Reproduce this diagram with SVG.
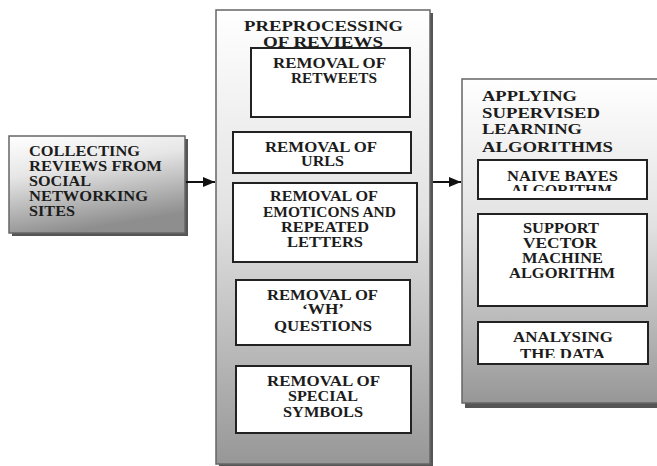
<svg xmlns="http://www.w3.org/2000/svg" width="657" height="466" viewBox="0 0 657 466">
<defs>
<linearGradient id="gOuter" x1="0" y1="0" x2="0" y2="1">
<stop offset="0" stop-color="#ffffff"/>
<stop offset="0.45" stop-color="#e2e2e2"/>
<stop offset="1" stop-color="#979797"/>
</linearGradient>
<linearGradient id="gLeft" x1="0" y1="0" x2="0.3" y2="1">
<stop offset="0" stop-color="#ffffff"/>
<stop offset="0.4" stop-color="#e6e6e6"/>
<stop offset="1" stop-color="#8e8e8e"/>
</linearGradient>
<marker id="arrow" viewBox="0 0 12 10" refX="12" refY="5" markerWidth="12" markerHeight="10" markerUnits="userSpaceOnUse" orient="auto">
<path d="M0,0 L12,5 L0,10 Z" fill="#111"/>
</marker>
<clipPath id="clipNB"><rect x="478" y="160" width="169" height="31"/></clipPath>
<clipPath id="clipAD"><rect x="478" y="322" width="170" height="36"/></clipPath>
</defs>
<style>
.shadow{fill:#555;}
.outer{stroke:#666;stroke-width:1.5;}
.inner{fill:#fff;stroke:#222;stroke-width:2;}
.t{font-family:"Liberation Serif","Times New Roman",serif;font-weight:bold;font-size:14px;fill:#1c1c1c;}
.title{font-size:15.5px;}
.conn{stroke:#111;stroke-width:2;fill:none;}
</style>

<g id="collecting">
<rect class="shadow" x="12" y="139" width="176" height="97"/>
<rect class="outer" x="9" y="136" width="176" height="97" fill="url(#gLeft)"/>
<text class="t" x="29" y="156" textLength="111" lengthAdjust="spacingAndGlyphs">COLLECTING</text>
<text class="t" x="29" y="171" textLength="133" lengthAdjust="spacingAndGlyphs">REVIEWS FROM</text>
<text class="t" x="29" y="186" textLength="62" lengthAdjust="spacingAndGlyphs">SOCIAL</text>
<text class="t" x="29" y="201" textLength="119" lengthAdjust="spacingAndGlyphs">NETWORKING</text>
<text class="t" x="29" y="216" textLength="46" lengthAdjust="spacingAndGlyphs">SITES</text>
</g>

<g id="preprocessing">
<rect class="shadow" x="219" y="13" width="214" height="454"/>
<rect class="outer" x="216" y="10" width="214" height="454" fill="url(#gOuter)"/>
<text class="t title" x="244" y="31" textLength="159" lengthAdjust="spacingAndGlyphs">PREPROCESSING</text>
<text class="t title" x="263" y="47" textLength="120" lengthAdjust="spacingAndGlyphs">OF REVIEWS</text>
</g>

<g id="retweets">
<rect class="inner" x="251" y="48" width="159" height="69"/>
<text class="t" x="273" y="68" textLength="113" lengthAdjust="spacingAndGlyphs">REMOVAL OF</text>
<text class="t" x="291" y="83" textLength="86" lengthAdjust="spacingAndGlyphs">RETWEETS</text>
</g>

<g id="urls">
<rect class="inner" x="233" y="132" width="178" height="41"/>
<text class="t" x="265" y="152" textLength="112" lengthAdjust="spacingAndGlyphs">REMOVAL OF</text>
<text class="t" x="301" y="166" textLength="43" lengthAdjust="spacingAndGlyphs">URLS</text>
</g>

<g id="emoticons">
<rect class="inner" x="233" y="183" width="184" height="79"/>
<text class="t" x="270" y="201" textLength="108" lengthAdjust="spacingAndGlyphs">REMOVAL OF</text>
<text class="t" x="263" y="217" textLength="133" lengthAdjust="spacingAndGlyphs">EMOTICONS AND</text>
<text class="t" x="281" y="232" textLength="88" lengthAdjust="spacingAndGlyphs">REPEATED</text>
<text class="t" x="287" y="247" textLength="76" lengthAdjust="spacingAndGlyphs">LETTERS</text>
</g>

<g id="wh">
<rect class="inner" x="236" y="280" width="174" height="65"/>
<text class="t" x="267" y="300" textLength="111" lengthAdjust="spacingAndGlyphs">REMOVAL OF</text>
<text class="t" x="302" y="314" textLength="42" lengthAdjust="spacingAndGlyphs">‘WH’</text>
<text class="t" x="274" y="331" textLength="98" lengthAdjust="spacingAndGlyphs">QUESTIONS</text>
</g>

<g id="special">
<rect class="inner" x="236" y="366" width="175" height="67"/>
<text class="t" x="267" y="386" textLength="113" lengthAdjust="spacingAndGlyphs">REMOVAL OF</text>
<text class="t" x="288" y="401" textLength="70" lengthAdjust="spacingAndGlyphs">SPECIAL</text>
<text class="t" x="283" y="417" textLength="80" lengthAdjust="spacingAndGlyphs">SYMBOLS</text>
</g>

<g id="supervised">
<rect class="shadow" x="465" y="82" width="200" height="326"/>
<rect class="outer" x="462" y="79" width="200" height="324" fill="url(#gOuter)"/>
<text class="t title" x="482" y="101" textLength="95" lengthAdjust="spacingAndGlyphs">APPLYING</text>
<text class="t title" x="482" y="118" textLength="118" lengthAdjust="spacingAndGlyphs">SUPERVISED</text>
<text class="t title" x="482" y="134" textLength="100" lengthAdjust="spacingAndGlyphs">LEARNING</text>
<text class="t title" x="482" y="152" textLength="131" lengthAdjust="spacingAndGlyphs">ALGORITHMS</text>
</g>

<g id="naivebayes">
<rect class="inner" x="478" y="160" width="169" height="39"/>
<text class="t" x="507" y="181" textLength="111" lengthAdjust="spacingAndGlyphs">NAIVE BAYES</text>
<text class="t" x="511" y="195" textLength="101" lengthAdjust="spacingAndGlyphs" clip-path="url(#clipNB)">ALGORITHM</text>
</g>

<g id="svm">
<rect class="inner" x="478" y="214" width="169" height="92"/>
<text class="t" x="523" y="233" textLength="76" lengthAdjust="spacingAndGlyphs">SUPPORT</text>
<text class="t" x="523" y="248" textLength="74" lengthAdjust="spacingAndGlyphs">VECTOR</text>
<text class="t" x="522" y="263" textLength="81" lengthAdjust="spacingAndGlyphs">MACHINE</text>
<text class="t" x="509" y="278" textLength="106" lengthAdjust="spacingAndGlyphs">ALGORITHM</text>
</g>

<g id="analysing">
<rect class="inner" x="478" y="322" width="170" height="42"/>
<text class="t" x="513" y="342" textLength="100" lengthAdjust="spacingAndGlyphs">ANALYSING</text>
<text class="t" x="520" y="359" textLength="85" lengthAdjust="spacingAndGlyphs" clip-path="url(#clipAD)">THE DATA</text>
</g>

<g id="connectors">
<line class="conn" x1="186" y1="182" x2="215" y2="182" marker-end="url(#arrow)"/>
<line class="conn" x1="433" y1="182" x2="461" y2="182" marker-end="url(#arrow)"/>
</g>
</svg>
